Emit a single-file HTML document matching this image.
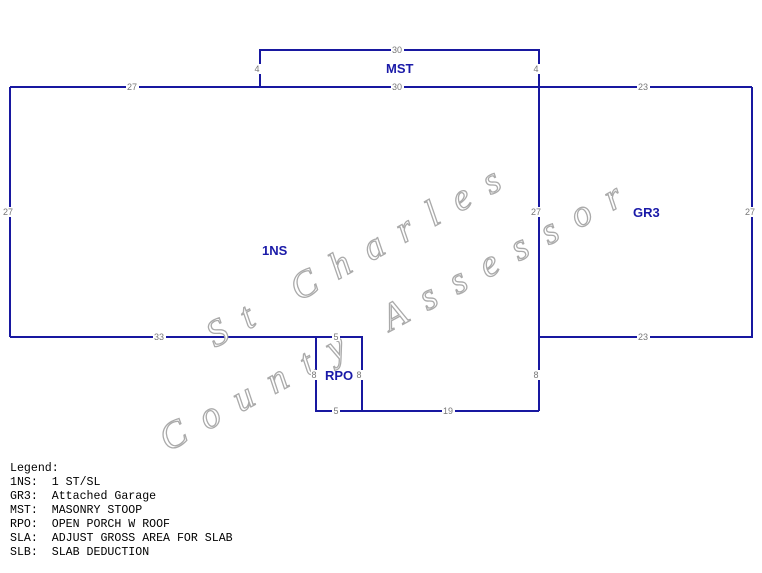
<!DOCTYPE html>
<html><head><meta charset="utf-8"><style>
html,body{margin:0;padding:0;background:#fff;width:762px;height:573px;overflow:hidden}
svg{display:block}
.d{font-family:"Liberation Sans",sans-serif;font-size:9px;fill:#777}
.n{font-family:"Liberation Sans",sans-serif;font-size:13px;font-weight:bold;fill:#1a1aa8}
.lg{font-family:"Liberation Mono",monospace;font-size:11.6px;fill:#000}
.wm{font-family:"Liberation Serif",serif;font-size:38px;fill:#fff;stroke:#aaa;stroke-width:1.3;font-style:italic}
</style></head><body>
<svg width="762" height="573" viewBox="0 0 762 573" xmlns="http://www.w3.org/2000/svg">
<g fill="none" stroke="#1818a0" stroke-width="2">
<polyline points="260,87 260,50 539,50 539,87"/>
<line x1="10" y1="87" x2="752" y2="87"/>
<line x1="10" y1="87" x2="10" y2="337"/>
<line x1="10" y1="337" x2="316" y2="337"/>
<rect x="316" y="337" width="46" height="74"/>
<line x1="362" y1="411" x2="539" y2="411"/>
<line x1="539" y1="50" x2="539" y2="411"/>
<polyline points="539,337 752,337 752,87"/>
</g>
<g class="wm">
<text transform="translate(215,348) rotate(-29)" textLength="330" lengthAdjust="spacing">St Charles</text>
<text transform="translate(168,452) rotate(-28.5)" textLength="520" lengthAdjust="spacing">County Assessor</text>
</g>
<g fill="#fff">
<rect x="391" y="45" width="13" height="9"/>
<rect x="391" y="82" width="13" height="9"/>
<rect x="126" y="82" width="13" height="9"/>
<rect x="637" y="82" width="13" height="9"/>
<rect x="637" y="332" width="13" height="9"/>
<rect x="153" y="332" width="13" height="9"/>
<rect x="2" y="207" width="13" height="10"/>
<rect x="530" y="207" width="13" height="10"/>
<rect x="744" y="207" width="13" height="10"/>
<rect x="442" y="406" width="13" height="9"/>
<rect x="332" y="332" width="8" height="9"/>
<rect x="332" y="406" width="8" height="9"/>
<rect x="311" y="370" width="8" height="10"/>
<rect x="357" y="370" width="8" height="10"/>
<rect x="534" y="370" width="8" height="10"/>
<rect x="255" y="64" width="8" height="10"/>
<rect x="534" y="64" width="8" height="10"/>
</g>
<g class="d" text-anchor="middle">
<text x="397" y="53">30</text>
<text x="397" y="90">30</text>
<text x="132" y="90">27</text>
<text x="643" y="90">23</text>
<text x="643" y="340">23</text>
<text x="159" y="340">33</text>
<text x="8" y="215">27</text>
<text x="536" y="215">27</text>
<text x="750" y="215">27</text>
<text x="448" y="414">19</text>
<text x="336" y="340">5</text>
<text x="336" y="414">5</text>
<text x="314" y="378">8</text>
<text x="359" y="378">8</text>
<text x="536" y="378">8</text>
<text x="257" y="72">4</text>
<text x="536" y="72">4</text>
</g>
<g class="n">
<text x="386" y="73">MST</text>
<text x="262" y="255">1NS</text>
<text x="633" y="217">GR3</text>
<text x="325" y="380">RPO</text>
</g>
<g class="lg">
<text x="10" y="471">Legend:</text>
<text x="10" y="485">1NS:&#160;&#160;1 ST/SL</text>
<text x="10" y="499">GR3:&#160;&#160;Attached Garage</text>
<text x="10" y="513">MST:&#160;&#160;MASONRY STOOP</text>
<text x="10" y="527">RPO:&#160;&#160;OPEN PORCH W ROOF</text>
<text x="10" y="541">SLA:&#160;&#160;ADJUST GROSS AREA FOR SLAB</text>
<text x="10" y="555">SLB:&#160;&#160;SLAB DEDUCTION</text>
</g>
</svg>
</body></html>
